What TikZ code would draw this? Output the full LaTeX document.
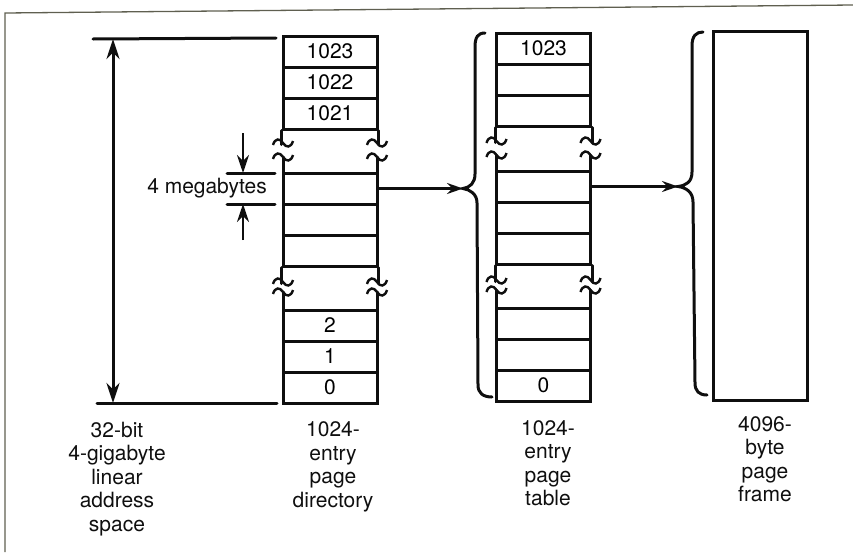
\documentclass[tikz,border=0pt]{standalone}
\usepackage{fontspec}
\setmainfont{TeX Gyre Heros}
\usetikzlibrary{arrows.meta}
\definecolor{ink}{RGB}{15,15,15}
\definecolor{framecol}{RGB}{95,95,80}
\begin{document}
\begin{tikzpicture}[x=1pt,y=-1pt,
  ln/.style={line width=3pt, draw=ink, line cap=round},
  thinln/.style={line width=2.4pt, draw=ink},
  cell/.style={draw=ink, line width=3pt, minimum width=94pt, minimum height=31pt, inner sep=0pt,
    font=\fontsize{21}{24}\selectfont},
  lbl/.style={align=center, inner sep=0pt, font=\fontsize{21}{23.5}\selectfont, text=ink},
  tip/.style={-{Stealth[length=16pt,width=11pt]}},
  bigtip/.style={{Stealth[length=20pt,width=13pt]}-{Stealth[length=20pt,width=13pt]}},
  smalltip/.style={-{Stealth[length=18pt,width=12pt]}},
  brk/.pic={\draw[line width=2.4pt, draw=ink] (-10,2) .. controls (-8,-5) and (-3,-5) .. (0,0) .. controls (3,5) and (8,5) .. (10,-2);}
]
\useasboundingbox (0,0) rectangle (853,552);

% outer frame lines
\draw[line width=1.3pt, framecol] (5,552) -- (5,13) -- (853,5);

% ---------- linear address space ----------
\coordinate (atop) at (113,39);
\coordinate (abot) at (113,403);
\draw[ln] (93,39) -- (276,38);
\draw[ln] (97,403) -- (277,403);
\draw[ln, bigtip] (atop) -- (abot);

% ---------- page directory ----------
\node[cell] (d1023) at (330,51.5) {1023};
\node[cell] (d1022) at (330,82.5) {1022};
\node[cell] (d1021) at (330,113.5) {1021};
\draw[ln] (d1021.south west) -- ++(0,14);
\draw[ln] (d1021.south east) -- ++(0,14);
\pic at (283,143) {brk};
\pic at (377,143) {brk};
\pic at (283,157) {brk};
\pic at (377,157) {brk};
\draw[ln] (283,157) -- (283,173);
\draw[ln] (377,157) -- (377,173);
\node[cell] (dm) at (330,188.5) {};
\node[cell] (dm2) at (330,219.5) {};
\node[cell] (dm3) at (330,250.5) {};
\draw[ln] (dm3.south west) -- ++(0,16);
\draw[ln] (dm3.south east) -- ++(0,16);
\pic at (283,282) {brk};
\pic at (377,282) {brk};
\pic at (283,292) {brk};
\pic at (377,292) {brk};
\draw[ln] (283,292) -- (283,310);
\draw[ln] (377,292) -- (377,310);
\node[cell] (d2) at (330,325.5) {2};
\node[cell] (d1) at (330,356.5) {1};
\node[cell] (d0) at (330,387.5) {0};

% 4 megabytes dimension
\draw[ln] (227,173) -- (275,173);
\draw[ln] (227,204) -- (275,204);
\coordinate (mbtop) at (243,133);
\coordinate (mbbot) at (243,240);
\draw[thinln, smalltip] (mbtop) -- (243,173);
\draw[thinln, smalltip] (mbbot) -- (243,204);
\node[lbl] (mb) at (207,188.5) {4 megabytes};

% ---------- page table ----------
\coordinate (tip1) at (463,188.5);
\draw[ln] (485,33) .. controls (478,33) and (475,37) .. (475,47) -- (475,174)
  .. controls (475,183) and (470,187.5) .. (tip1)
  .. controls (470,189.5) and (477,194) .. (477,203) -- (478,385)
  .. controls (478,393) and (483,397) .. (492,397);
\node[cell] (t1023) at (543.5,48.5) {1023};
\node[cell] (t1022) at (543.5,79.5) {};
\node[cell] (t1021) at (543.5,110.5) {};
\draw[ln] (t1021.south west) -- ++(0,15);
\draw[ln] (t1021.south east) -- ++(0,15);
\pic at (496.5,141) {brk};
\pic at (590.5,141) {brk};
\pic at (496.5,155) {brk};
\pic at (590.5,155) {brk};
\draw[ln] (496.5,155) -- (496.5,171);
\draw[ln] (590.5,155) -- (590.5,171);
\node[cell] (tm) at (543.5,186.5) {};
\node[cell] (tm2) at (543.5,217.5) {};
\node[cell] (tm3) at (543.5,248.5) {};
\draw[ln] (tm3.south west) -- ++(0,16);
\draw[ln] (tm3.south east) -- ++(0,16);
\pic at (496.5,280) {brk};
\pic at (590.5,280) {brk};
\pic at (496.5,290) {brk};
\pic at (590.5,290) {brk};
\draw[ln] (496.5,290) -- (496.5,308);
\draw[ln] (590.5,290) -- (590.5,308);
\node[cell] (t2) at (543.5,323.5) {};
\node[cell] (t1) at (543.5,354.5) {};
\node[cell] (t0) at (543.5,385.5) {0};

\draw[thinln, tip] (dm.east) -- (tip1);

% ---------- page frame ----------
\coordinate (tip2) at (678,186.5);
\draw[ln] (703,32) .. controls (696,32) and (692,36) .. (692,46) -- (692,172)
  .. controls (692,182) and (686,185.5) .. (tip2)
  .. controls (686,187.5) and (693,192) .. (693,202) -- (695,383)
  .. controls (695,391) and (699,395) .. (707,395);
\node[draw=ink, line width=3pt, minimum width=94pt, minimum height=369pt, inner sep=0pt] (frame) at (760,215.5) {};

\draw[thinln, tip] (tm.east) -- (tip2);

% ---------- captions ----------
\node[lbl] (c1) at (117,479) {32-bit\\4-gigabyte\\linear\\address\\space};
\node[lbl] (c2) at (333,467) {1024-\\entry\\page\\directory};
\node[lbl] (c3) at (548,463) {1024-\\entry\\page\\table};
\node[lbl] (c4) at (765,459) {4096-\\byte\\page\\frame};
\end{tikzpicture}
\end{document}
